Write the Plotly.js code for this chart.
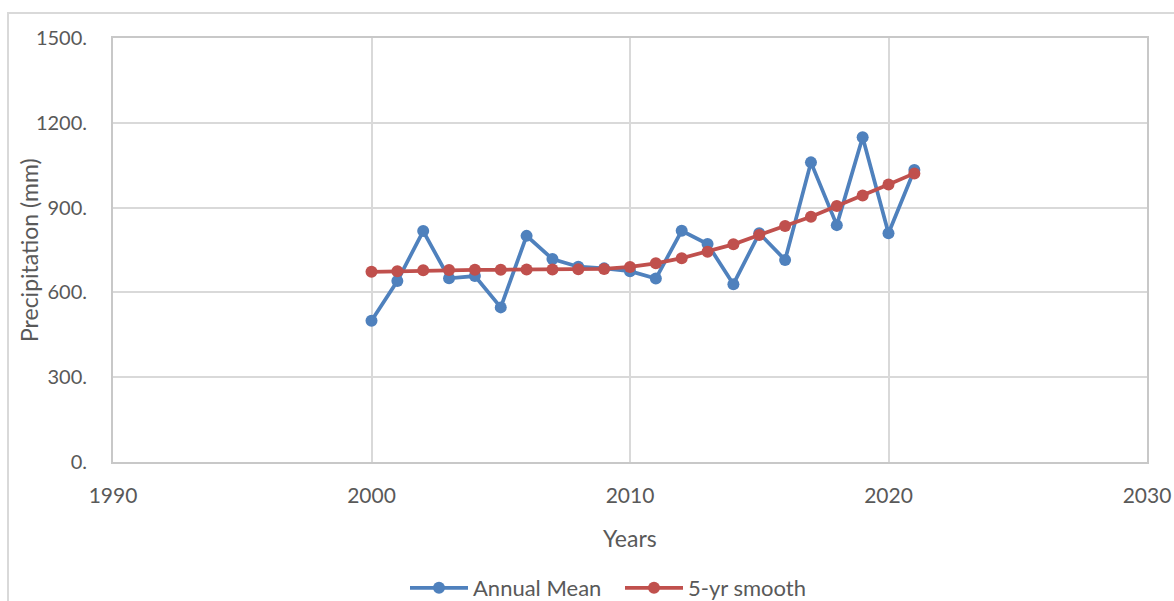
<!DOCTYPE html>
<html>
<head>
<meta charset="utf-8">
<script src="https://cdn.plot.ly/plotly-3.0.1.min.js"></script>
<style>html,body{margin:0;padding:0;background:#fff;}#chart{width:1174px;height:601px;}</style>
</head>
<body>
<div id="chart"></div>
<script>
const years = [2000,2001,2002,2003,2004,2005,2006,2007,2008,2009,2010,2011,2012,2013,2014,2015,2016,2017,2018,2019,2020,2021];
const annualMean = [500,640,817,650,658,547,800,718,691,685,675,649,818,771,629,809,715,1060,838,1149,809,1033];
const smooth5yr = [673,675,678,679,680,680,681,681,682,683,690,703,721,744,770,803,835,868,906,943,982,1021];
const yTickVals = [0,300,600,900,1200,1500];
const yTickText = ["0.","300.","600.","900.","1200.","1500."];
const xTickVals = [1990,2000,2010,2020,2030];

const FONT = 'Lato, "Open Sans", sans-serif';
const traces = [
  {x: years, y: annualMean, name: 'Annual Mean', type: 'scatter', mode: 'lines+markers',
   line: {color: '#4f81bd', width: 3.75}, marker: {color: '#4f81bd', size: 12}},
  {x: years, y: smooth5yr, name: '5-yr smooth', type: 'scatter', mode: 'lines+markers',
   line: {color: '#c0504d', width: 3.75}, marker: {color: '#c0504d', size: 12}}
];
const layout = {
  width: 1174, height: 601,
  margin: {l: 113, r: 27, t: 38, b: 139, autoexpand: false},
  paper_bgcolor: '#ffffff', plot_bgcolor: '#ffffff',
  font: {family: FONT, color: '#595959', size: 21},
  showlegend: true,
  legend: {orientation: 'h', x: (405-113)/1034, xanchor: 'left', y: -(588-462)/424, yanchor: 'middle',
           font: {size: 22, color: '#595959'}, itemwidth: 58, entrywidth: 142, tracegroupgap: 0,
           bgcolor: 'rgba(0,0,0,0)'},
  xaxis: {range: [1990, 2030], tickmode: 'array', tickvals: xTickVals,
          showgrid: true, gridcolor: '#d9d9d9', gridwidth: 2,
          showline: true, linecolor: '#c8c8c8', linewidth: 2, mirror: true,
          zeroline: false, ticks: '', ticklabelstandoff: 14,
          tickfont: {size: 21, color: '#595959'}},
  yaxis: {range: [0, 1500], tickmode: 'array', tickvals: yTickVals, ticktext: yTickText,
          showgrid: true, gridcolor: '#d9d9d9', gridwidth: 2,
          showline: true, linecolor: '#c8c8c8', linewidth: 2, mirror: true,
          zeroline: false, ticks: '', ticklabelstandoff: 20,
          tickfont: {size: 20, color: '#595959'}},
  annotations: [
    {text: 'Years', xref: 'paper', yref: 'paper', x: 0.5, y: -(538-462)/424,
     xanchor: 'center', yanchor: 'middle', showarrow: false, font: {size: 23, color: '#595959'}},
    {text: 'Precipitation (mm)', xref: 'paper', yref: 'paper', x: (29-113)/1034, y: 0.5,
     xanchor: 'center', yanchor: 'middle', textangle: -90, showarrow: false, font: {size: 23, color: '#595959'}}
  ],
  shapes: [{type: 'rect', xref: 'paper', yref: 'paper',
            x0: -105/1034, x1: 1080/1034, y0: -200/424, y1: 449/424,
            line: {color: '#d9d9d9', width: 2}, fillcolor: 'rgba(0,0,0,0)', layer: 'below'}]
};
Plotly.newPlot('chart', traces, layout, {displayModeBar: false, staticPlot: true});
</script>
</body>
</html>
